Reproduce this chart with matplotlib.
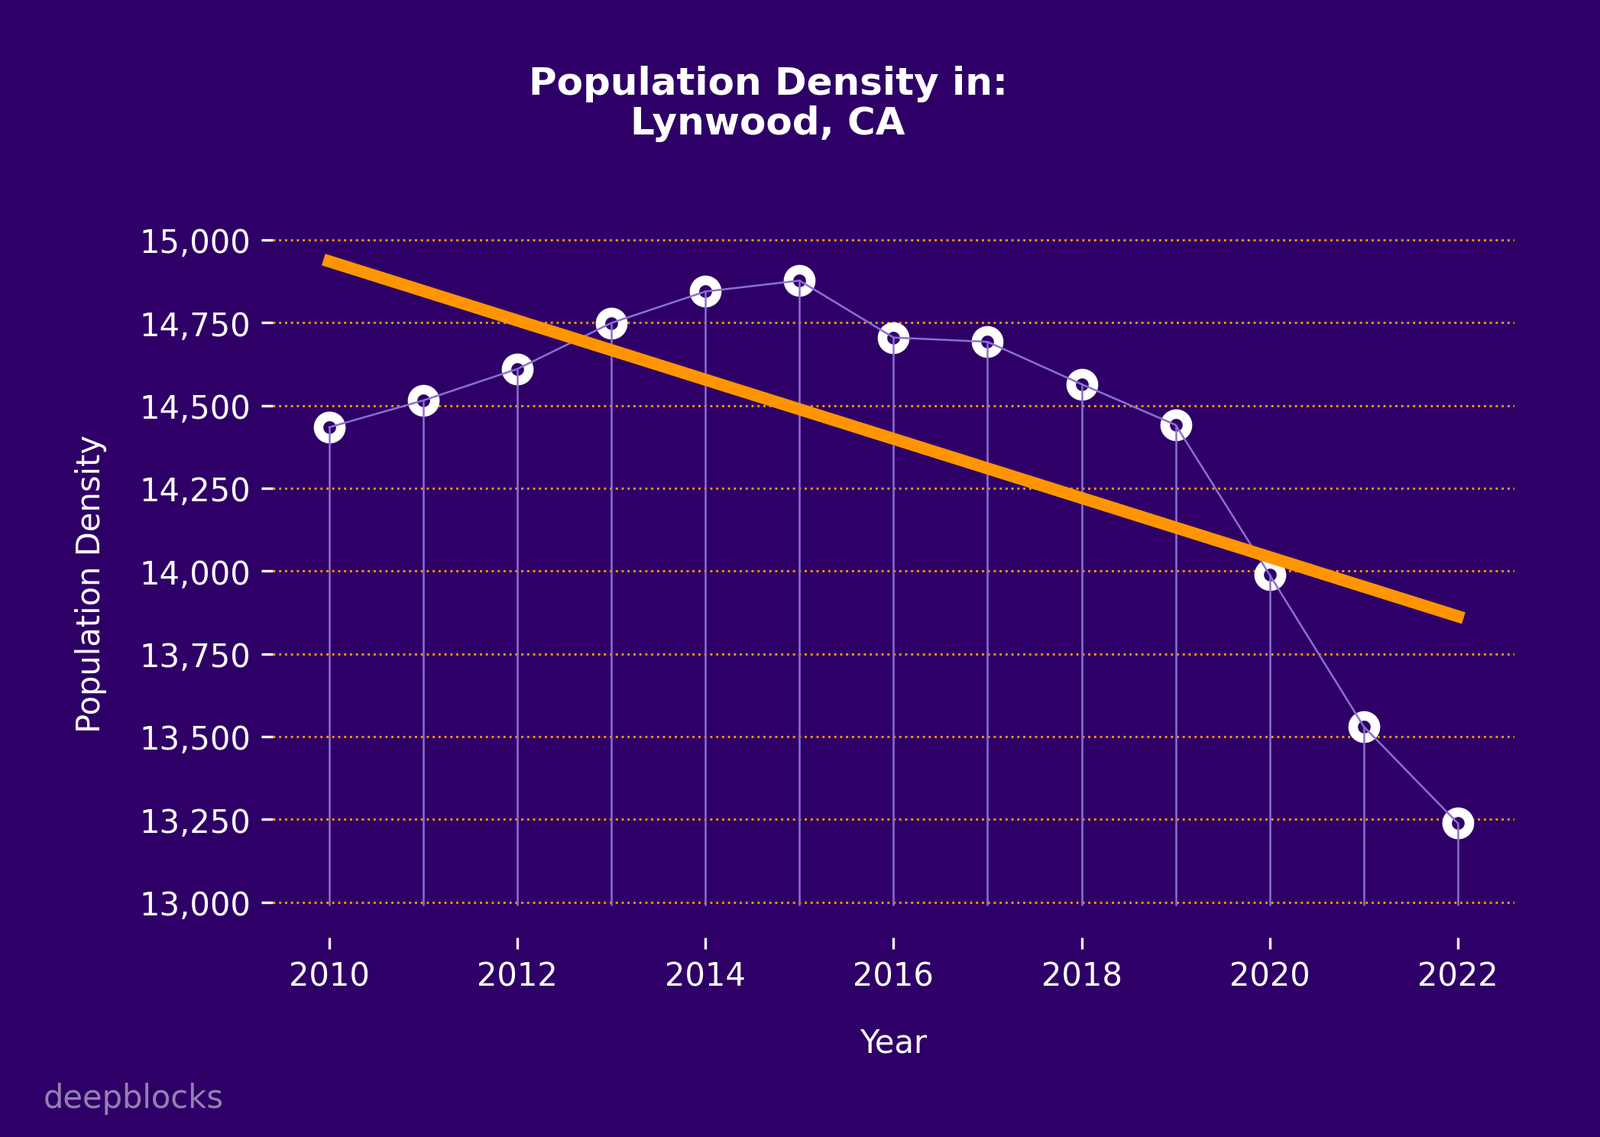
import numpy as np
import matplotlib
matplotlib.use('Agg')
import matplotlib.pyplot as plt
from matplotlib.ticker import MultipleLocator, StrMethodFormatter

# Dados
years = [2010, 2011, 2012, 2013, 2014, 2015, 2016, 2017, 2018, 2019, 2020, 2021, 2022]
density = [14434, 14515, 14610, 14749, 14844, 14877, 14705, 14692, 14564, 14441, 13988, 13530, 13238]
stem_base = 12990

bg = '#2e0067'
lav = '#8b70d4'
orange = '#ff9500'

fig = plt.figure(figsize=(2094 / 300, 1489 / 300), dpi=300, facecolor=bg)
ax = fig.add_axes([0.1705, 0.1753, 0.7759, 0.6226], facecolor=bg)

# Linha de tendência
coef = np.polyfit(years, density, 1)
trend = np.polyval(coef, years)
ax.plot(years, trend, color=orange, lw=3.8, zorder=4, solid_capstyle='projecting')

# Hastes, linha e marcadores
ax.plot(years, density, 'o', ms=7, mfc=bg, mec='white', mew=3, zorder=2)
ax.vlines(years, stem_base, density, color=lav, lw=0.6, zorder=3)
ax.plot(years, density, color=lav, lw=0.6, zorder=3)

ax.yaxis.set_major_locator(MultipleLocator(250))
ax.yaxis.set_major_formatter(StrMethodFormatter('{x:,.0f}'))
ax.xaxis.set_major_locator(MultipleLocator(2))
ax.grid(axis='y', color=orange, ls=':', lw=0.7, zorder=1)
ax.set_axisbelow(True)
for s in ax.spines.values():
    s.set_visible(False)
ax.tick_params(colors='white', labelsize=10)

ax.set_xlabel('Year', color='white', fontsize=10, labelpad=11)
ax.set_ylabel('Population Density', color='white', fontsize=10, labelpad=10)

fig.text(0.48, 0.942, 'Population Density in:\nLynwood, CA', color='white',
         fontsize=12, fontweight='bold', ha='center', va='top', ma='center',
         linespacing=1.1)
fig.text(0.027, 0.026, 'deepblocks', color='white', alpha=0.5, fontsize=10)

fig.savefig('out.png', dpi=300, facecolor=bg)
